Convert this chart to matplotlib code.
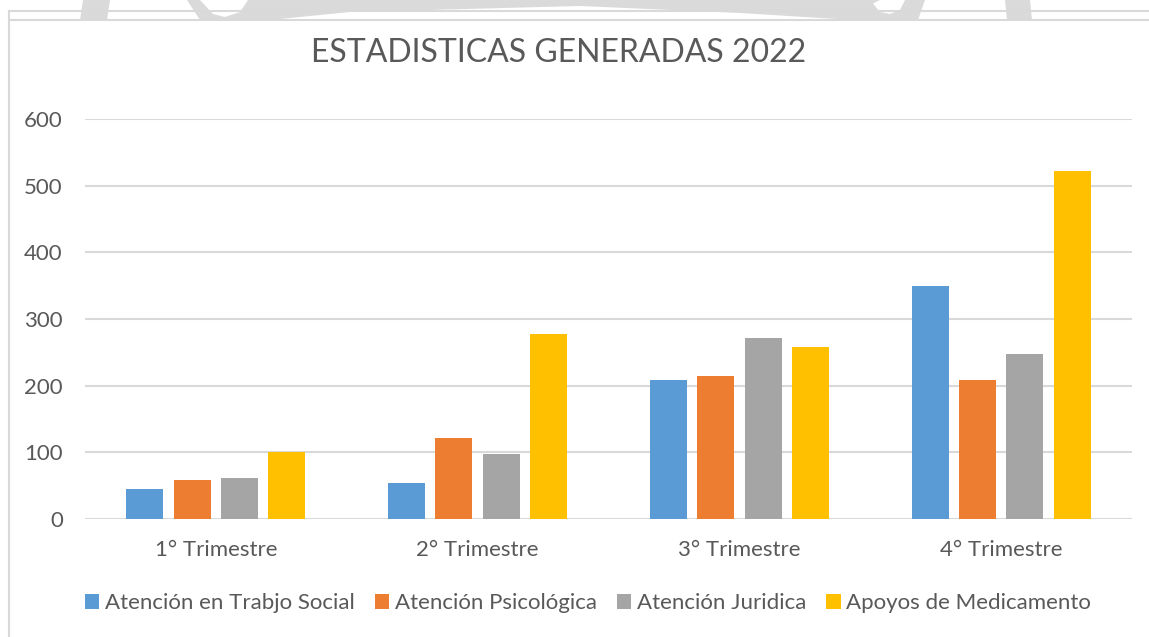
import numpy as np
import matplotlib.pyplot as plt
from matplotlib.patches import Polygon
from matplotlib.lines import Line2D

categories = ['1° Trimestre', '2° Trimestre', '3° Trimestre', '4° Trimestre']
series_names = ['Atención en Trabjo Social', 'Atención Psicológica',
                'Atención Juridica', 'Apoyos de Medicamento']
trabajo_social = [45, 54, 208, 349]
psicologica = [58, 122, 214, 209]
juridica = [61, 97, 272, 247]
medicamento = [100, 277, 258, 522]
colors = ['#5B9BD5', '#ED7D31', '#A5A5A5', '#FFC000']
yticks = [0, 100, 200, 300, 400, 500, 600]

plt.rcParams['font.family'] = ['Lato', 'DejaVu Sans']
text_color = '#595959'
grid_color = '#D9D9D9'

W, H = 1149, 637
fig = plt.figure(figsize=(W / 100, H / 100), dpi=100)

# watermark fragments and frame at the top (pixel coords, y down)
def px(pts):
    return [(x / W, 1 - y / H) for x, y in pts]

wm = '#DADADA'
shapes = [
    [(83, 0), (110, 0), (107, 20), (80, 20)],
    [(187, 0), (200, 0), (213, 14), (225, 17), (240, 12), (248, 0),
     (880, 0), (870, 5), (853, 20), (740, 13), (580, 6), (350, 12), (280, 19),
     (240, 20), (200, 20)],
    [(860, 0), (870, 0), (880, 12), (890, 14), (900, 10), (905, 0),
     (925, 0), (918, 20), (853, 20)],
    [(1005, 0), (1030, 0), (1032, 20), (1007, 20)],
]
for s in shapes:
    fig.patches.append(Polygon(px(s), closed=True, transform=fig.transFigure,
                               facecolor=wm, edgecolor='none', zorder=0))
for yy in (11, 20):
    fig.add_artist(Line2D([9 / W, 1], [1 - yy / H] * 2, color=grid_color, lw=1.5))
fig.add_artist(Line2D([9 / W, 9 / W], [1 - 11 / H, 0], color=grid_color, lw=1.5))

ax = fig.add_axes([85 / W, 1 - 519 / H, (1132 - 85) / W, 400 / H])
ax.patch.set_alpha(0)

x = np.arange(len(categories))
width = 0.141
step = 0.181
data = [trabajo_social, psicologica, juridica, medicamento]
for i, (vals, name, c) in enumerate(zip(data, series_names, colors)):
    ax.bar(x + (i - 1.5) * step, vals, width, color=c, label=name, zorder=3)

ax.set_xlim(-0.5, len(categories) - 0.5)
ax.set_ylim(0, 600)
ax.set_yticks(yticks)
ax.set_xticks(x)
ax.set_xticklabels(categories)
ax.yaxis.grid(True, color=grid_color, lw=1.5, zorder=0)
ax.tick_params(axis='both', length=0, colors=text_color, labelsize=16)
ax.tick_params(axis='y', pad=16)
ax.tick_params(axis='x', pad=15)
for sp in ax.spines.values():
    sp.set_visible(False)

fig.text(559 / W, 1 - 53 / H, 'ESTADISTICAS GENERADAS 2022', ha='center',
         va='center', fontsize=23, color=text_color)

fig.legend(loc='center', bbox_to_anchor=(588 / W, 1 - 603 / H), ncol=4,
           frameon=False, fontsize=16, labelcolor=text_color,
           handlelength=0.65, handleheight=0.65, handletextpad=0.25,
           columnspacing=0.9)

fig.savefig('out.png', dpi=100)
